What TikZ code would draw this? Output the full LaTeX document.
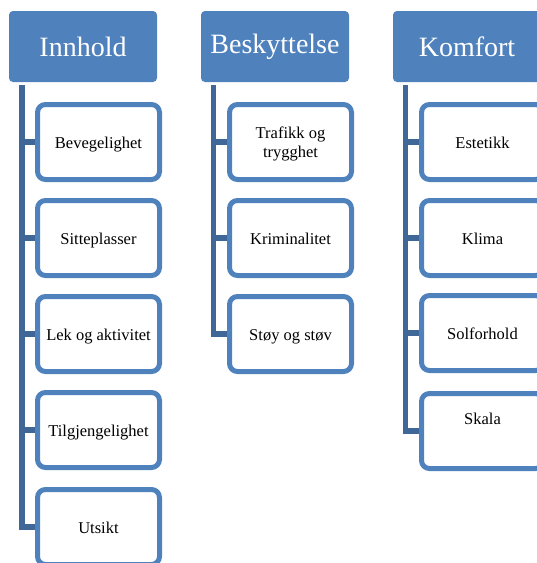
\documentclass[tikz,border=0pt]{standalone}
\usepackage{fontspec}
\setmainfont{Liberation Serif}
\definecolor{hdrblue}{HTML}{4F81BD}
\definecolor{boxblue}{HTML}{4F81BD}
\definecolor{connblue}{HTML}{3F6797}
\tikzset{
  hdr/.style={fill=hdrblue, text=white, rounded corners=4pt, minimum width=148pt, minimum height=71pt, inner sep=0pt, font=\fontsize{28}{32}\selectfont},
  childbox/.style={draw=boxblue, line width=5pt, fill=white, rounded corners=8pt, minimum width=122pt, minimum height=75pt, inner sep=0pt, align=center, text=black, font=\fontsize{16.5}{19}\selectfont},
  oneline/.style={text height=12pt, text depth=0pt},
  conn/.style={draw=connblue, line width=5.5pt}
}
\begin{document}
\begin{tikzpicture}[x=1pt,y=-1pt]
\useasboundingbox (0,0) rectangle (537,563);
% headers
\node[hdr] (innhold) at (83,46.5) {Innhold};
\node[hdr] (besk) at (275,46.5) {Beskyttelse};
\node[hdr] (komf) at (467,46.5) {Komfort};
% line start coordinates
\coordinate (innL) at ([xshift=13pt,yshift=-3pt]innhold.south west);
\coordinate (beskL) at ([xshift=12.5pt,yshift=-3pt]besk.south west);
\coordinate (komfL) at ([xshift=12.5pt,yshift=-3pt]komf.south west);
% Innhold children
\node[childbox, oneline] (bev) at (98.5,142) {Bevegelighet};
\node[childbox, oneline] (sitt) at (98.5,238) {Sitteplasser};
\node[childbox, oneline] (lek) at (98.5,334) {Lek og aktivitet};
\node[childbox, oneline] (tilg) at (98.5,430) {Tilgjengelighet};
\node[childbox, oneline] (uts) at (98.5,527) {Utsikt};
% Beskyttelse children
\node[childbox, text depth=0pt] (traf) at (290.5,142) {Trafikk og\\trygghet};
\node[childbox, oneline] (krim) at (290.5,238) {Kriminalitet};
\node[childbox, oneline] (stoy) at (290.5,334) {Støy og støv};
% Komfort children
\node[childbox, oneline] (este) at (482.5,142) {Estetikk};
\node[childbox, oneline] (klima) at (482.5,238) {Klima};
\node[childbox, oneline] (solf) at (482.5,333) {Solforhold};
\node[childbox, label={[font=\fontsize{16.5}{19}\selectfont, text height=12pt, text depth=0pt, yshift=13pt]center:Skala}] (skala) at (482.5,431) {};
% connectors
\draw[conn] (innL) |- (uts.west);
\foreach \c in {bev,sitt,lek,tilg} \draw[conn] (\c.west -| innL) -- (\c.west);
\draw[conn] (beskL) |- (stoy.west);
\foreach \c in {traf,krim} \draw[conn] (\c.west -| beskL) -- (\c.west);
\draw[conn] (komfL) |- (skala.west);
\foreach \c in {este,klima,solf} \draw[conn] (\c.west -| komfL) -- (\c.west);
\end{tikzpicture}
\end{document}
